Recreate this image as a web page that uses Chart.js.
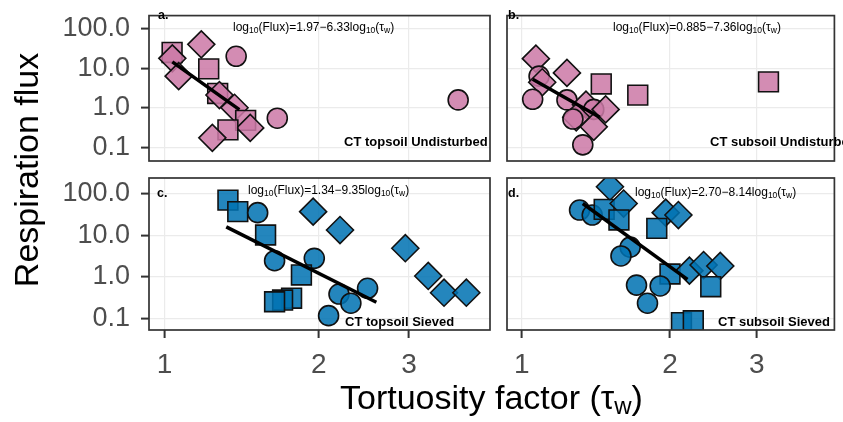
<!DOCTYPE html>
<html>
<head>
<meta charset="utf-8">
<script src="https://cdn.jsdelivr.net/npm/chart.js@4.4.1/dist/chart.umd.min.js"></script>
<style>
  body { margin: 0; width: 843px; height: 422px; overflow: hidden; background: #fff;
         font-family: "Liberation Sans", Arial, sans-serif; position: relative; }
  canvas { position: absolute; left: 0; top: 0; }
  .txt { position: absolute; white-space: nowrap; color: #000; line-height: 1; }
  .eq { font-size: 12px; }
  .eq sub { font-size: 8.5px; vertical-align: -2px; line-height: 0; }
  .tag { font-size: 13px; font-weight: bold; }
  .let { font-size: 12.5px; font-weight: bold; }
  .axt { font-size: 34px; }
  .axt sub { font-size: 24px; vertical-align: -5px; line-height: 0; }
</style>
</head>
<body>
<canvas id="pa" width="850" height="422"></canvas>
<canvas id="pb" width="850" height="422"></canvas>
<canvas id="pc" width="850" height="422"></canvas>
<canvas id="pd" width="850" height="422"></canvas>

<div class="txt let" style="left:158px;top:9px">a.</div>
<div class="txt let" style="left:508px;top:9px">b.</div>
<div class="txt let" style="left:157px;top:187px">c.</div>
<div class="txt let" style="left:508px;top:187px">d.</div>

<div class="txt eq" style="left:233px;top:21px">log<sub>10</sub>(Flux)=1.97&minus;6.33log<sub>10</sub>(&tau;<sub>w</sub>)</div>
<div class="txt eq" style="left:613px;top:21px">log<sub>10</sub>(Flux)=0.885&minus;7.36log<sub>10</sub>(&tau;<sub>w</sub>)</div>
<div class="txt eq" style="left:248px;top:184px">log<sub>10</sub>(Flux)=1.34&minus;9.35log<sub>10</sub>(&tau;<sub>w</sub>)</div>
<div class="txt eq" style="left:635px;top:186px">log<sub>10</sub>(Flux)=2.70&minus;8.14log<sub>10</sub>(&tau;<sub>w</sub>)</div>

<div class="txt tag" style="left:344px;top:135px">CT topsoil Undisturbed</div>
<div class="txt tag" style="left:710px;top:135px">CT subsoil Undisturbed</div>
<div class="txt tag" style="left:345px;top:315px">CT topsoil Sieved</div>
<div class="txt tag" style="left:718px;top:315px">CT subsoil Sieved</div>

<div class="txt axt" style="left:-124px;top:153px;width:300px;text-align:center;transform:rotate(-90deg)">Respiration flux</div>
<div class="txt axt" style="left:340px;top:380px">Tortuosity factor (&tau;<sub>w</sub>)</div>

<script>
// axis ticks
var xTicks = [1, 2, 3];
var xTickLabels = ['1', '2', '3'];
var yTicks = [0.1, 1, 10, 100];
var yTickLabels = ['0.1', '1.0', '10.0', '100.0'];

// a. CT topsoil Undisturbed   (c = circle, s = square, d = diamond)
var aTau   = [1.035, 1.036, 1.18, 1.38, 1.22, 1.066, 1.27, 1.28, 1.37, 3.74, 1.66, 1.44, 1.47, 1.33, 1.24];
var aFlux  = [25, 17.7, 40, 20, 9.6, 6.3, 2.3, 2.1, 1.0, 1.58, 0.545, 0.48, 0.31, 0.276, 0.174];
var aShape = ['s','d','d','c','s','d','s','d','d','c','c','s','d','s','d'];
var aFitTau  = [1.036, 1.40];
var aFitFlux = [14.4, 0.9];

// b. CT subsoil Undisturbed
var bTau   = [1.068, 1.084, 1.10, 1.235, 1.45, 1.72, 3.17, 1.052, 1.235, 1.35, 1.40, 1.48, 1.29, 1.27, 1.40, 1.33];
var bFlux  = [17.4, 6.3, 4.4, 7.6, 4.0, 2.09, 4.5, 1.64, 1.58, 1.2, 0.91, 0.91, 0.575, 0.52, 0.33, 0.116];
var bShape = ['d','c','d','d','s','s','s','c','c','d','c','d','d','c','d','c'];
var bFitTau  = [1.052, 1.44];
var bFitFlux = [5.25, 0.575];

// c. CT topsoil Sieved
var cTau   = [1.33, 1.39, 1.52, 1.95, 2.20, 1.575, 2.95, 1.64, 1.96, 1.85, 3.27, 3.51, 3.88, 2.49, 2.19, 2.31, 2.09, 1.77, 1.70, 1.64];
var cFlux  = [70, 37, 35, 37, 13.4, 10.2, 4.9, 2.46, 2.8, 1.12, 1.06, 0.42, 0.42, 0.535, 0.39, 0.235, 0.118, 0.31, 0.28, 0.255];
var cShape = ['s','s','c','d','d','s','d','c','c','s','d','d','d','c','c','c','c','s','s','s'];
var cFitTau  = [1.32, 2.59];
var cFitFlux = [16, 0.247];

// d. CT subsoil Sieved
var dTau   = [1.51, 1.31, 1.39, 1.47, 1.61, 1.575, 1.96, 2.08, 1.88, 1.66, 1.59, 2.0, 2.19, 2.34, 2.53, 2.42, 1.71, 1.91, 1.80, 2.11, 2.23];
var dFlux  = [147, 40.5, 30.7, 42, 58, 23.4, 35, 30.7, 14.7, 5.2, 3.2, 1.18, 1.42, 1.94, 1.84, 0.585, 0.64, 0.61, 0.235, 0.08, 0.089];
var dShape = ['d','c','c','s','d','s','d','d','s','c','c','s','d','d','d','s','c','c','c','s','s'];
var dFitTau  = [1.33, 2.17];
var dFitFlux = [58, 0.88];

var pink = 'rgba(204,121,167,0.86)';
var blue = 'rgba(0,114,178,0.86)';
var styleOf  = { c: 'circle', s: 'rect', d: 'rectRot' };
var radiusOf = { c: 10, s: 14, d: 13.5 };
var fontFam = '"Liberation Sans", Arial, sans-serif';

function pts(xs, ys) {
    return xs.map(function(x, i) { return { x: x, y: ys[i] }; });
}

var panelBorder = {
    id: 'panelBorder',
    afterDraw: function(chart) {
        var a = chart.chartArea, c = chart.ctx;
        c.save();
        c.strokeStyle = '#333';
        c.lineWidth = 1.7;
        c.strokeRect(a.left, a.top, a.right - a.left, a.bottom - a.top);
        c.restore();
    }
};

function makePanel(id, tau, flux, shape, fitTau, fitFlux, color, box, showX, showY, yRange) {
    new Chart(document.getElementById(id), {
        type: 'scatter',
        data: {
            datasets: [{
                data: pts(fitTau, fitFlux),
                showLine: true,
                borderColor: '#000',
                borderWidth: 3.5,
                pointRadius: 0,
                clip: 0,
                order: 0
            }, {
                data: pts(tau, flux),
                backgroundColor: color,
                borderColor: '#111',
                borderWidth: 1.6,
                pointStyle: shape.map(function(s) { return styleOf[s]; }),
                pointRadius: shape.map(function(s) { return radiusOf[s]; }),
                clip: 0,
                order: 1
            }]
        },
        options: {
            responsive: false,
            animation: false,
            events: [],
            layout: { padding: {
                left: showY ? 0 : box.left,
                right: 850 - box.right,
                top: box.top,
                bottom: showX ? 0 : 422 - box.bottom
            } },
            plugins: { legend: { display: false }, tooltip: { enabled: false } },
            scales: {
                x: {
                    type: 'logarithmic',
                    min: 0.933, max: 4.315,
                    afterBuildTicks: function(s) { s.ticks = xTicks.map(function(v) { return { value: v }; }); },
                    afterFit: function(s) { s.height = showX ? 422 - box.bottom : 0; s.paddingLeft = 0; s.paddingRight = 0; },
                    border: { display: false },
                    grid: { color: '#ebebeb', lineWidth: 1.2, drawTicks: showX, tickLength: 8, tickColor: '#333', tickWidth: 2 },
                    ticks: {
                        display: showX, autoSkip: false, maxRotation: 0, padding: 10, color: '#4d4d4d',
                        font: { family: fontFam, size: 28 },
                        callback: function(v, i) { return xTickLabels[i]; }
                    }
                },
                y: {
                    type: 'logarithmic',
                    min: yRange[0], max: yRange[1],
                    afterBuildTicks: function(s) { s.ticks = yTicks.map(function(v) { return { value: v }; }); },
                    afterFit: function(s) { s.width = showY ? box.left : 0; s.paddingTop = 0; s.paddingBottom = 0; },
                    border: { display: false },
                    grid: { color: '#ebebeb', lineWidth: 1.2, drawTicks: showY, tickLength: 8, tickColor: '#333', tickWidth: 2 },
                    ticks: {
                        display: showY, padding: 11, color: '#4d4d4d',
                        font: { family: fontFam, size: 27 },
                        callback: function(v, i) { return yTickLabels[i]; }
                    }
                }
            }
        },
        plugins: [panelBorder]
    });
}

var topRows = [Math.pow(10, -1.344), Math.pow(10, 2.328)];
var botRows = [Math.pow(10, -1.272), Math.pow(10, 2.376)];

makePanel('pa', aTau, aFlux, aShape, aFitTau, aFitFlux, pink, { left: 149, right: 490, top: 8,   bottom: 161 }, false, true,  topRows);
makePanel('pb', bTau, bFlux, bShape, bFitTau, bFitFlux, pink, { left: 507, right: 848, top: 8,   bottom: 161 }, false, false, topRows);
makePanel('pc', cTau, cFlux, cShape, cFitTau, cFitFlux, blue, { left: 149, right: 490, top: 178, bottom: 330 }, true,  true,  botRows);
makePanel('pd', dTau, dFlux, dShape, dFitTau, dFitFlux, blue, { left: 507, right: 848, top: 178, bottom: 330 }, true,  false, botRows);
</script>
</body>
</html>
